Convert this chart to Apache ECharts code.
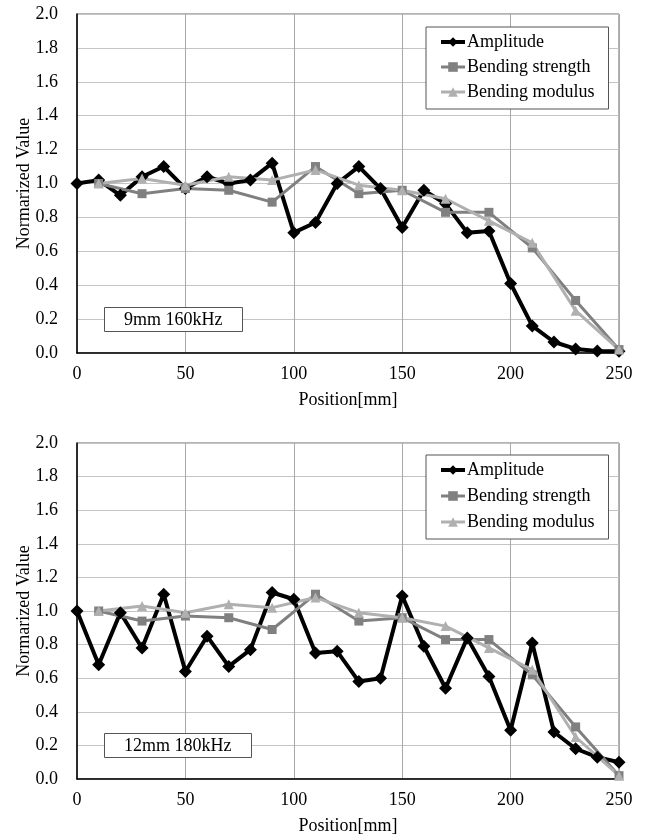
<!DOCTYPE html>
<html>
<head>
<meta charset="utf-8">
<script src="https://cdn.jsdelivr.net/npm/echarts@6/dist/echarts.min.js"></script>
<style>
  html, body { margin: 0; padding: 0; background: #fff; }
  #chart { width: 647px; height: 836px; }
</style>
</head>
<body>
<div id="chart"></div>
<script>
// Measurement positions along the specimen [mm]
const positions = [0, 10, 20, 30, 40, 50, 60, 70, 80, 90, 100, 110, 120, 130,
                   140, 150, 160, 170, 180, 190, 200, 210, 220, 230, 240, 250];
// Normalized ultrasonic amplitude, 9 mm / 160 kHz
const amplitude9mm = [1.00, 1.02, 0.93, 1.04, 1.10, 0.97, 1.04, 1.00, 1.02, 1.12,
                      0.71, 0.77, 1.00, 1.10, 0.97, 0.74, 0.96, 0.88, 0.71, 0.72,
                      0.41, 0.16, 0.065, 0.024, 0.012, 0.01];
// Normalized ultrasonic amplitude, 12 mm / 180 kHz
const amplitude12mm = [1.00, 0.68, 0.99, 0.78, 1.10, 0.64, 0.85, 0.67, 0.77, 1.11,
                       1.07, 0.75, 0.76, 0.58, 0.60, 1.09, 0.79, 0.54, 0.84, 0.61,
                       0.29, 0.81, 0.28, 0.18, 0.13, 0.10];
// Mechanical test positions [mm]
const bendPositions = [10, 30, 50, 70, 90, 110, 130, 150, 170, 190, 210, 230, 250];
const bendingStrength = [1.00, 0.94, 0.97, 0.96, 0.89, 1.10, 0.94, 0.96, 0.83, 0.83, 0.62, 0.31, 0.02];
const bendingModulus  = [1.00, 1.03, 0.99, 1.04, 1.02, 1.08, 0.99, 0.96, 0.91, 0.78, 0.65, 0.25, 0.02];

const seriesNames = ['Amplitude', 'Bending strength', 'Bending modulus'];
const panelLabels = ['9mm 160kHz', '12mm 180kHz'];
const xTicks = { min: 0, max: 250, interval: 50 };
const yTicks = { min: 0, max: 2.0, interval: 0.2 };

const FONT = '"Liberation Serif", "Times New Roman", serif';
const zip = (xs, ys) => xs.map((x, i) => [x, ys[i]]);

const grids = [
  { left: 77, top: 14, width: 542, height: 339 },
  { left: 77, top: 443, width: 542, height: 338 }
];

function xAxisFor(i) {
  return {
    type: 'value', gridIndex: i,
    min: xTicks.min, max: xTicks.max, interval: xTicks.interval,
    name: 'Position[mm]', nameLocation: 'middle', nameGap: 38, nameMoveOverlap: false,
    nameTextStyle: { fontFamily: FONT, fontSize: 18, color: '#000' },
    axisLine: { show: true, onZero: false, lineStyle: { color: '#000', width: 1.5 } },
    axisTick: { show: false },
    axisLabel: { margin: 12, fontFamily: FONT, fontSize: 18, color: '#000' },
    splitLine: { show: true, lineStyle: { color: '#a8a8a8', width: 1 } }
  };
}
function yAxisFor(i) {
  return {
    type: 'value', gridIndex: i,
    min: yTicks.min, max: yTicks.max, interval: yTicks.interval,
    name: 'Normarized Value', nameLocation: 'middle', nameGap: 44, nameMoveOverlap: false,
    nameTextStyle: { fontFamily: FONT, fontSize: 18, color: '#000' },
    axisLine: { show: true, onZero: false, lineStyle: { color: '#000', width: 1.5 } },
    axisTick: { show: false },
    axisLabel: { margin: 19, fontFamily: FONT, fontSize: 18, color: '#000',
                 formatter: v => v.toFixed(1) },
    splitLine: { show: true, lineStyle: { color: '#c4c4c4', width: 1 } }
  };
}

const styles = {
  'Amplitude':        { color: '#000000', width: 4, symbol: 'diamond', size: 13 },
  'Bending strength': { color: '#808080', width: 3, symbol: 'rect', size: 9 },
  'Bending modulus':  { color: '#b0b0b0', width: 3, symbol: 'triangle', size: 10 }
};
function line(name, data, gi) {
  const s = styles[name];
  return {
    name, type: 'line', xAxisIndex: gi, yAxisIndex: gi, data,
    symbol: s.symbol, symbolSize: s.size, showAllSymbol: true,
    lineStyle: { color: s.color, width: s.width },
    itemStyle: { color: s.color, borderWidth: 0 },
    emphasis: { disabled: true }, silent: true
  };
}

const amplitudes = [amplitude9mm, amplitude12mm];
const series = [];
[0, 1].forEach(gi => {
  series.push(line(seriesNames[0], zip(positions, amplitudes[gi]), gi));
  series.push(line(seriesNames[1], zip(bendPositions, bendingStrength), gi));
  series.push(line(seriesNames[2], zip(bendPositions, bendingModulus), gi));
});

function legendFor(top, gap) {
  return {
    data: seriesNames.map(n => ({
      name: n,
      lineStyle: { width: styles[n].width, color: styles[n].color }
    })),
    orient: 'vertical', left: 426, top,
    itemWidth: 24, itemHeight: 12, itemGap: gap,
    padding: [6, 14, 8, 13],
    backgroundColor: '#fff', borderColor: '#555', borderWidth: 1,
    selectedMode: false,
    textStyle: { fontFamily: FONT, fontSize: 18, color: '#000', padding: [0, 0, 0, -3] }
  };
}
function panelTitle(text, top) {
  return {
    text, left: 104, top,
    padding: [4, 20, 3, 20],
    backgroundColor: '#fff', borderColor: '#555', borderWidth: 1,
    textStyle: { fontFamily: FONT, fontSize: 18, fontWeight: 'normal', color: '#000' }
  };
}

const chart = echarts.init(document.getElementById('chart'), null, { renderer: 'canvas' });
chart.setOption({
  animation: false,
  backgroundColor: '#fff',
  title: [panelTitle(panelLabels[0], 307), panelTitle(panelLabels[1], 733)],
  legend: [legendFor(27, 7), legendFor(455, 8)],
  grid: grids.map(g => Object.assign({ show: true, borderColor: '#666', borderWidth: 1,
                                        backgroundColor: 'transparent', containLabel: false }, g)),
  xAxis: [xAxisFor(0), xAxisFor(1)],
  yAxis: [yAxisFor(0), yAxisFor(1)],
  series
});
</script>
</body>
</html>
